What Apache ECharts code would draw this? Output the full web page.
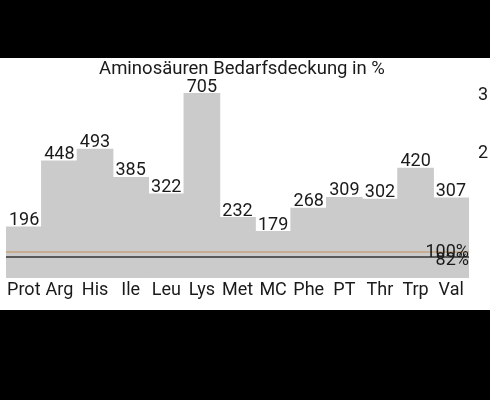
<!DOCTYPE html>
<html><head><meta charset="utf-8">
<script src="https://cdn.jsdelivr.net/npm/echarts@6/dist/echarts.min.js"></script>
<style>
html,body{margin:0;padding:0;background:#000;width:490px;height:400px;overflow:hidden}
#c{position:absolute;left:0;top:58px;width:490px;height:252px;background:#fff}
</style></head><body><div id="c"></div>
<script>
const categories = ['Prot','Arg','His','Ile','Leu','Lys','Met','MC','Phe','PT','Thr','Trp','Val'];
const values = [196,448,493,385,322,705,232,179,268,309,302,420,307];
const refLines = [100, 82];
const refLabels = ['100%', '82%'];
const sideLabels = ['3','2'];

const chart = echarts.init(document.getElementById('c'), null, {renderer:'canvas'});
const font = 'Roboto';
chart.setOption({
  animation:false,
  backgroundColor:'#fff',
  title:{text:'Aminosäuren Bedarfsdeckung in %', left:237, textAlign:'center', top:-3,
    textStyle:{fontFamily:font, fontSize:18.5, fontWeight:'normal', color:'#1a1a1a'}},
  grid:{left:6, right:21, top:35, bottom:32},
  xAxis:{type:'category', data:categories,
    axisLine:{show:false}, axisTick:{show:false},
    axisLabel:{fontFamily:font, fontSize:18, color:'#1a1a1a', margin:3, interval:0}},
  yAxis:{type:'value', min:0, max:705, show:false, splitLine:{show:false}},
  graphic:[
    {type:'text', left:478, top:28, style:{text:sideLabels[0], fontFamily:font, fontSize:18, fill:'#1a1a1a'}},
    {type:'text', left:478, top:86, style:{text:sideLabels[1], fontFamily:font, fontSize:18, fill:'#1a1a1a'}}
  ],
  series:[{
    type:'bar', data:values, barCategoryGap:'0%', barWidth:'103%',
    itemStyle:{color:'#cbcbcb', borderWidth:0},
    label:{show:true, position:'top', distance:-3, fontFamily:font, fontSize:18, color:'#1a1a1a',
      lineHeight:18},
    markLine:{
      symbol:'none', silent:true,
      data:[
        {yAxis:refLines[0], lineStyle:{color:'#c4a27e', width:1.5, type:'solid'},
         label:{formatter:refLabels[0], position:'insideEndTop', distance:[0,-10]}},
        {yAxis:refLines[1], lineStyle:{color:'#333333', width:1.5, type:'solid'},
         label:{formatter:refLabels[1], position:'insideEndBottom', distance:[0,-5]}}
      ],
      label:{fontFamily:font, fontSize:18, color:'#1a1a1a'}
    }
  }]
});
</script></body></html>
